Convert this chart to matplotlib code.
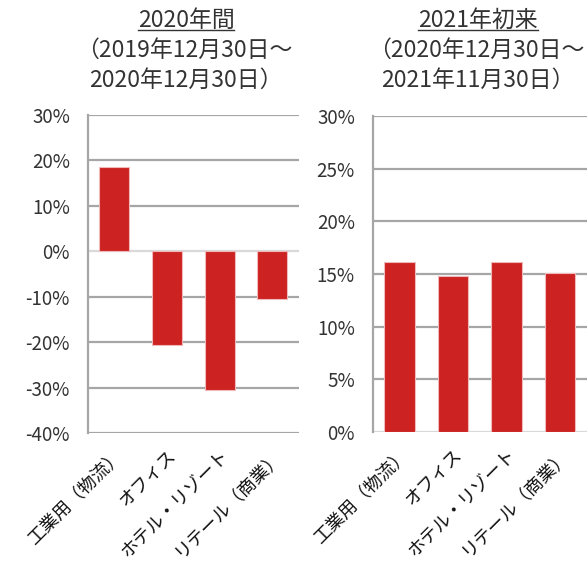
import matplotlib
matplotlib.use("Agg")
import matplotlib.pyplot as plt
from matplotlib.lines import Line2D
from matplotlib.ticker import FuncFormatter

plt.rcParams["font.family"] = ["Noto Sans CJK JP", "DejaVu Sans"]

categories = ["工業用（物流）", "オフィス", "ホテル・リゾート", "リテール（商業）"]
ret_2020 = [18.5, -20.6, -30.5, -10.6]
ret_2021 = [16.1, 14.8, 16.1, 15.1]
titles = [
    ("2020年間", "（2019年12月30日～", "2020年12月30日）"),
    ("2021年初来", "（2020年12月30日～", "2021年11月30日）"),
]

RED, EDGE, GRID, ZERO, TXT = "#CC2222", "#F0B8B8", "#A6A6A6", "#D9D9D9", "#333333"

fig = plt.figure(figsize=(5.87, 5.71), dpi=100)
ax1 = fig.add_axes([0.150, 0.2417, 0.359, 0.5569])
ax2 = fig.add_axes([0.6354, 0.2434, 0.3646, 0.5534])

pct = FuncFormatter(lambda v, _: f"{v:.0f}%")


def style(ax, ylim, step, vals):
    ax.set_ylim(*ylim)
    ax.set_xlim(-0.5, len(categories) - 0.5)
    ticks = list(range(ylim[0], ylim[1] + 1, step))
    ax.set_yticks(ticks)
    ax.yaxis.set_major_formatter(pct)
    for t in ticks:
        ax.axhline(t, color=ZERO if t == 0 else GRID, lw=1.6, zorder=1)
    for s in ("top", "right", "bottom"):
        ax.spines[s].set_visible(False)
    ax.spines["left"].set_color(GRID)
    ax.spines["left"].set_linewidth(1.6)
    ax.tick_params(length=0, labelsize=13.5, colors=TXT, pad=13)
    ax.bar(range(len(categories)), vals, width=0.57, color=RED,
           edgecolor=EDGE, linewidth=0.8, zorder=3)
    ax.set_xticks(range(len(categories)))
    ax.set_xticklabels(categories, rotation=45, ha="right",
                       rotation_mode="anchor", fontsize=13, color="#111111")
    ax.tick_params(axis="x", pad=10)


style(ax1, (-40, 30), 10, ret_2020)
style(ax2, (0, 30), 5, ret_2021)

fig.canvas.draw()
r = fig.canvas.get_renderer()
for cx, (head, l2, l3) in zip([186 / 587, 478 / 587], titles):
    t = fig.text(cx, 1 - 20 / 571, head, ha="center", va="center",
                 fontsize=16.5, color=TXT)
    fig.text(cx - 2 / 587, 1 - 50 / 571, l2, ha="center", va="center",
             fontsize=16.5, color=TXT)
    fig.text(cx, 1 - 80 / 571, l3, ha="center", va="center",
             fontsize=16.5, color=TXT)
    bb = t.get_window_extent(r).transformed(fig.transFigure.inverted())
    fig.add_artist(Line2D([bb.x0, bb.x1], [bb.y0 + 0.003, bb.y0 + 0.003],
                          color=TXT, lw=1.0, transform=fig.transFigure))

fig.savefig("out.png", dpi=100)
